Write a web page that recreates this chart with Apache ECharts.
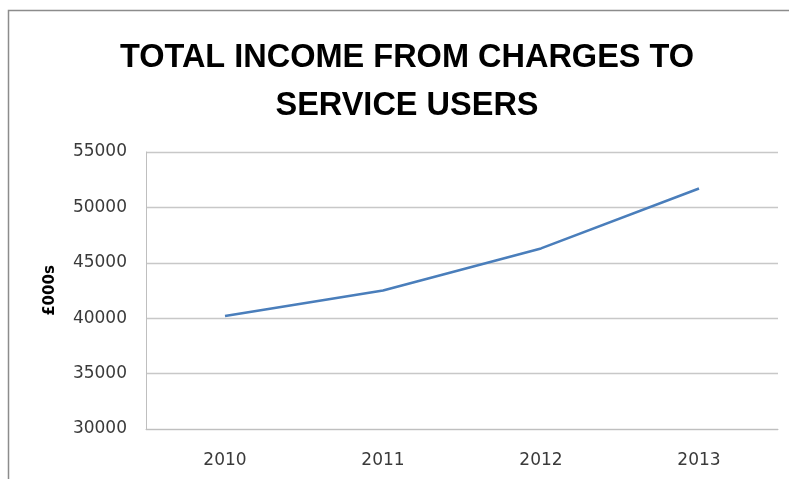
<!DOCTYPE html>
<html>
<head>
<meta charset="utf-8">
<script src="https://cdn.jsdelivr.net/npm/echarts@6/dist/echarts.min.js"></script>
<style>
  html, body { margin: 0; padding: 0; background: #fff; }
  #chart { width: 789px; height: 479px; }
</style>
</head>
<body>
<div id="chart"></div>
<script>
// Years on the category axis
const years = ['2010', '2011', '2012', '2013'];
// Total income from charges to service users, £000s
const income = [40200, 42500, 46300, 51700];
// Value axis range and step
const yMin = 30000;
const yMax = 55000;
const yStep = 5000;

const chart = echarts.init(document.getElementById('chart'), null, { renderer: 'canvas' });

chart.setOption({
  animation: false,
  backgroundColor: '#ffffff',
  title: {
    text: 'TOTAL INCOME FROM CHARGES TO\nSERVICE USERS',
    left: 402,
    top: 29,
    textAlign: 'center',
    textStyle: {
      fontFamily: 'Liberation Sans',
      fontWeight: 'bold',
      fontSize: 32.5,
      lineHeight: 48,
      color: '#000000'
    }
  },
  graphic: [{
    type: 'rect',
    shape: { x: 8.5, y: 10.5, width: 800, height: 500 },
    style: { fill: 'none', stroke: '#8c8c8c', lineWidth: 1.5 },
    z: 0
  }],
  grid: {
    left: 146,
    right: 11,
    top: 152,
    bottom: 50
  },
  xAxis: {
    type: 'category',
    data: years,
    boundaryGap: true,
    axisLine: { show: true, lineStyle: { color: '#bfbfbf', width: 1 } },
    axisTick: { show: false },
    axisLabel: {
      margin: 23,
      fontFamily: 'DejaVu Sans',
      fontSize: 17,
      color: '#3a3a3a'
    }
  },
  yAxis: {
    type: 'value',
    min: yMin,
    max: yMax,
    interval: yStep,
    name: '£000s',
    nameLocation: 'middle',
    nameGap: 88,
    nameRotate: 90,
    nameTextStyle: {
      fontFamily: 'DejaVu Sans',
      fontWeight: 'bold',
      fontSize: 15,
      color: '#000000'
    },
    axisLine: { show: true, lineStyle: { color: '#bfbfbf', width: 1 } },
    axisTick: { show: false },
    splitLine: { show: true, lineStyle: { color: '#c8c8c8', width: 1.3 } },
    axisLabel: {
      margin: 19,
      fontFamily: 'DejaVu Sans',
      fontSize: 17,
      color: '#3a3a3a',
      formatter: function (v) { return String(v); }
    }
  },
  series: [{
    type: 'line',
    data: income,
    showSymbol: false,
    symbol: 'none',
    lineStyle: { color: '#4a7ebb', width: 2.6 },
    z: 3
  }]
});
</script>
</body>
</html>
